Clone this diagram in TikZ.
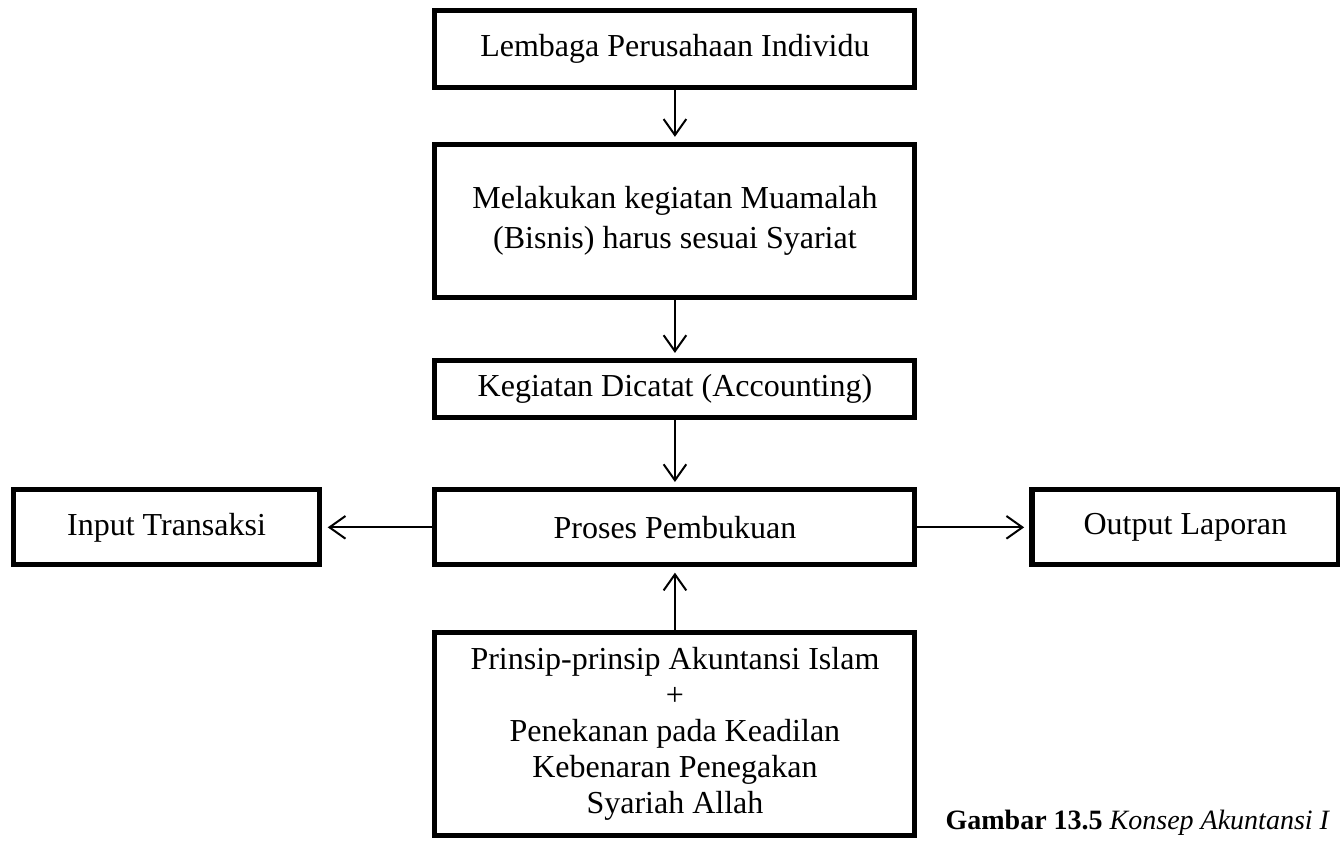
\documentclass[tikz,border=0pt]{standalone}
\usepackage{fontspec}
\setmainfont{Liberation Serif}
\usepackage{tikz}
\usetikzlibrary{positioning,arrows.meta}

\begin{document}
\begin{tikzpicture}[
    node distance=20pt,
    box/.style={draw=black, line width=1.9pt, minimum width=180pt, align=center, font=\fontsize{12}{13.5}\selectfont},
    side/.style={box, minimum width=115pt, minimum height=28.1pt},
    capt/.style={anchor=base west, inner sep=0pt, font=\fontsize{10.5}{12}\selectfont},
    arr/.style={-{Straight Barb[length=6pt,width=8.5pt]}, line width=0.75pt, shorten >=2pt}
]
    \useasboundingbox (0,0) rectangle (502.5pt,-315.75pt);

    % main column
    \node[box, minimum height=28.9pt] (lembaga) at (253.1pt,-18.4pt) {Lembaga Perusahaan Individu};
    \node[box, minimum height=57.4pt, below=19.5pt of lembaga] (muamalah) {Melakukan kegiatan Muamalah\\[1.5pt] (Bisnis) harus sesuai Syariat};
    \node[box, minimum height=21.4pt, below=21.75pt of muamalah] (dicatat) {Kegiatan Dicatat (Accounting)};
    \node[box, minimum height=28.1pt, below=25.1pt of dicatat] (proses) {Proses Pembukuan};
    \node[box, minimum height=76.1pt, below=23.6pt of proses] (prinsip) {Prinsip-prinsip Akuntansi Islam\\ +\\ Penekanan pada Keadilan\\ Kebenaran Penegakan\\ Syariah Allah};

    % input / output
    \node[side, left=41.25pt of proses] (input) {Input Transaksi};
    \node[side, right=42pt of proses] (output) {Output Laporan};

    \draw[arr] (lembaga) -- (muamalah);
    \draw[arr] (muamalah) -- (dicatat);
    \draw[arr] (dicatat) -- (proses);
    \draw[arr] (proses) -- (input);
    \draw[arr] (proses) -- (output);
    \draw[arr] (prinsip) -- (proses);

    % caption
    \node[capt] (gambar) at (354.4pt,-311pt) {\textbf{Gambar 13.5} \textit{Konsep Akuntansi I}};
\end{tikzpicture}
\end{document}
